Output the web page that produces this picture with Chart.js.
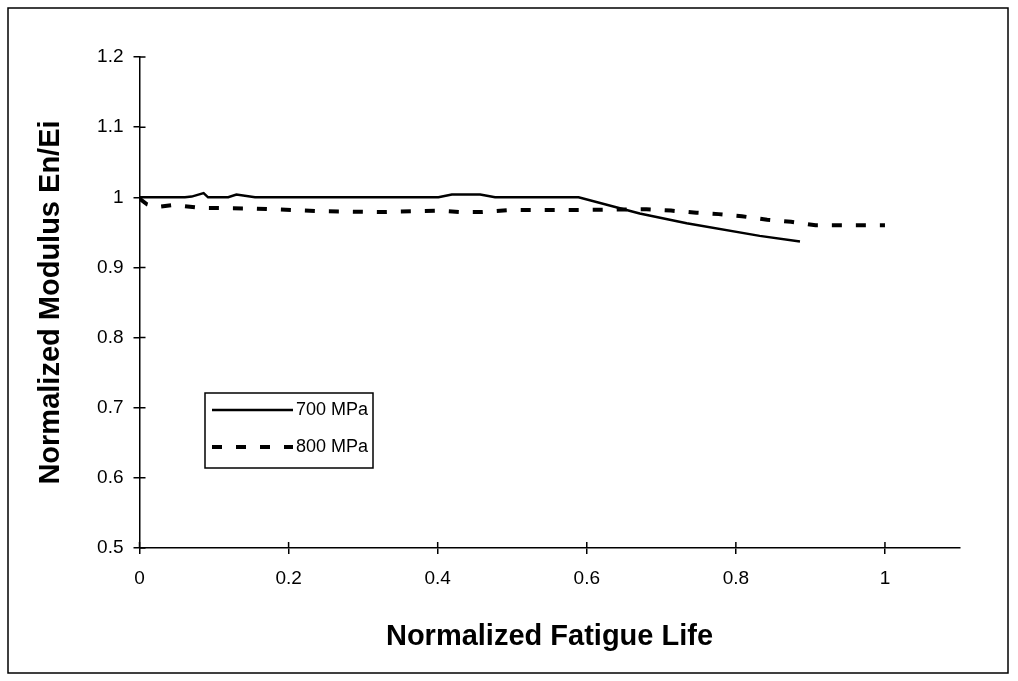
<!DOCTYPE html>
<html>
<head>
<meta charset="utf-8">
<script src="https://cdn.jsdelivr.net/npm/chart.js@4"></script>
<style>
  html, body { margin: 0; padding: 0; background: #fff; }
</style>
</head>
<body>
<canvas id="myChart" width="1018" height="681"></canvas>
<script>
// tick labels
const lifeTicks = [0, 0.2, 0.4, 0.6, 0.8, 1];
const modulusTicks = [0.5, 0.6, 0.7, 0.8, 0.9, 1, 1.1, 1.2];

// series
const seriesLabels = ['700 MPa', '800 MPa'];
const life700 = [0, 0.03, 0.061, 0.07, 0.086, 0.092, 0.119, 0.13, 0.155, 0.2, 0.3, 0.401, 0.419, 0.457, 0.477, 0.53, 0.589, 0.671, 0.734, 0.832, 0.886];
const modulus700 = [1.0, 1.0, 1.0, 1.001, 1.006, 1.0, 1.0, 1.004, 1.0, 1.0, 1.0, 1.0, 1.004, 1.004, 1.0, 1.0, 1.0, 0.977, 0.963, 0.945, 0.937];
const life800 = [0, 0.01, 0.022, 0.045, 0.08, 0.15, 0.25, 0.33, 0.4, 0.43, 0.46, 0.5, 0.6, 0.68, 0.713, 0.747, 0.777, 0.808, 0.842, 0.874, 0.907, 1.0];
const modulus800 = [0.998, 0.99, 0.986, 0.989, 0.985, 0.984, 0.98, 0.979, 0.981, 0.979, 0.979, 0.982, 0.982, 0.983, 0.981, 0.978, 0.976, 0.973, 0.968, 0.965, 0.96, 0.96];

const FONT = "'Liberation Sans', Arial, Helvetica, sans-serif";
const PAD = { left: 20, right: 58.5, top: 57, bottom: 10 };

// outer frame round the whole picture
const framePlugin = {
  id: 'frame',
  afterDraw(chart) {
    const ctx = chart.ctx;
    ctx.save();
    ctx.strokeStyle = '#000';
    ctx.lineWidth = 1.5;
    ctx.strokeRect(8, 8, 1000, 665);
    ctx.restore();
  }
};

// tick marks cross the axis lines (inner half)
const crossTicks = {
  id: 'crossTicks',
  afterDraw(chart) {
    const { ctx, chartArea, scales } = chart;
    ctx.save();
    ctx.strokeStyle = '#000';
    ctx.lineWidth = 1.5;
    ctx.beginPath();
    scales.x.ticks.forEach(t => {
      const px = scales.x.getPixelForValue(t.value);
      ctx.moveTo(px, chartArea.bottom);
      ctx.lineTo(px, chartArea.bottom - 6);
    });
    scales.y.ticks.forEach(t => {
      const py = scales.y.getPixelForValue(t.value);
      ctx.moveTo(chartArea.left, py);
      ctx.lineTo(chartArea.left + 6, py);
    });
    ctx.stroke();
    ctx.restore();
  }
};

// boxed legend inside the plot
const boxLegend = {
  id: 'boxLegend',
  afterDraw(chart) {
    const ctx = chart.ctx;
    const box = { x: 205, y: 393, w: 168, h: 75 };
    ctx.save();
    ctx.fillStyle = '#fff';
    ctx.fillRect(box.x, box.y, box.w, box.h);
    ctx.strokeStyle = '#000';
    ctx.lineWidth = 1.5;
    ctx.strokeRect(box.x, box.y, box.w, box.h);
    chart.data.datasets.forEach((ds, i) => {
      const y = box.y + 17 + i * 37;
      ctx.beginPath();
      ctx.strokeStyle = ds.borderColor;
      ctx.lineWidth = ds.borderWidth;
      ctx.setLineDash(ds.borderDash || []);
      ctx.moveTo(212, y);
      ctx.lineTo(293, y);
      ctx.stroke();
      ctx.setLineDash([]);
      ctx.fillStyle = '#000';
      ctx.font = '18px ' + FONT;
      ctx.textBaseline = 'middle';
      ctx.fillText(ds.label, 296, y);
    });
    ctx.restore();
  }
};

new Chart(document.getElementById('myChart'), {
  type: 'line',
  data: {
    datasets: [
      {
        label: seriesLabels[0],
        data: life700.map((x, i) => ({ x, y: modulus700[i] })),
        borderColor: '#000',
        borderWidth: 2.5,
        pointRadius: 0,
        tension: 0,
        fill: false
      },
      {
        label: seriesLabels[1],
        data: life800.map((x, i) => ({ x, y: modulus800[i] })),
        borderColor: '#000',
        borderWidth: 4,
        borderDash: [10, 14],
        borderCapStyle: 'butt',
        pointRadius: 0,
        tension: 0,
        fill: false
      }
    ]
  },
  options: {
    responsive: false,
    animation: false,
    layout: { padding: PAD },
    plugins: {
      legend: { display: false },
      tooltip: { enabled: false }
    },
    scales: {
      x: {
        type: 'linear',
        min: 0,
        max: 1.1,
        afterBuildTicks: s => { s.ticks = lifeTicks.map(v => ({ value: v })); },
        afterFit: s => { s.height = 681 - PAD.bottom - 548; },
        ticks: {
          color: '#000',
          font: { family: FONT, size: 19 },
          padding: 13,
          maxRotation: 0,
          callback: v => String(+v.toFixed(2))
        },
        grid: { drawOnChartArea: false, drawTicks: true, tickLength: 6, color: '#000', lineWidth: 1.5 },
        border: { display: true, color: '#000', width: 1.5 },
        title: {
          display: true,
          text: 'Normalized Fatigue Life',
          color: '#000',
          font: { family: FONT, size: 29, weight: 'bold' },
          padding: { top: 0, bottom: 17 }
        }
      },
      y: {
        type: 'linear',
        min: 0.5,
        max: 1.2,
        afterBuildTicks: s => { s.ticks = modulusTicks.map(v => ({ value: v })); },
        afterFit: s => { s.width = 139.5 - PAD.left; },
        ticks: {
          color: '#000',
          font: { family: FONT, size: 19 },
          padding: 10,
          callback: v => String(+v.toFixed(2))
        },
        grid: { drawOnChartArea: false, drawTicks: true, tickLength: 6, color: '#000', lineWidth: 1.5 },
        border: { display: true, color: '#000', width: 1.5 },
        title: {
          display: true,
          text: 'Normalized Modulus En/Ei',
          color: '#000',
          font: { family: FONT, size: 29, weight: 'bold' },
          padding: { top: 14, bottom: 0 }
        }
      }
    }
  },
  plugins: [framePlugin, crossTicks, boxLegend]
});
</script>
</body>
</html>
